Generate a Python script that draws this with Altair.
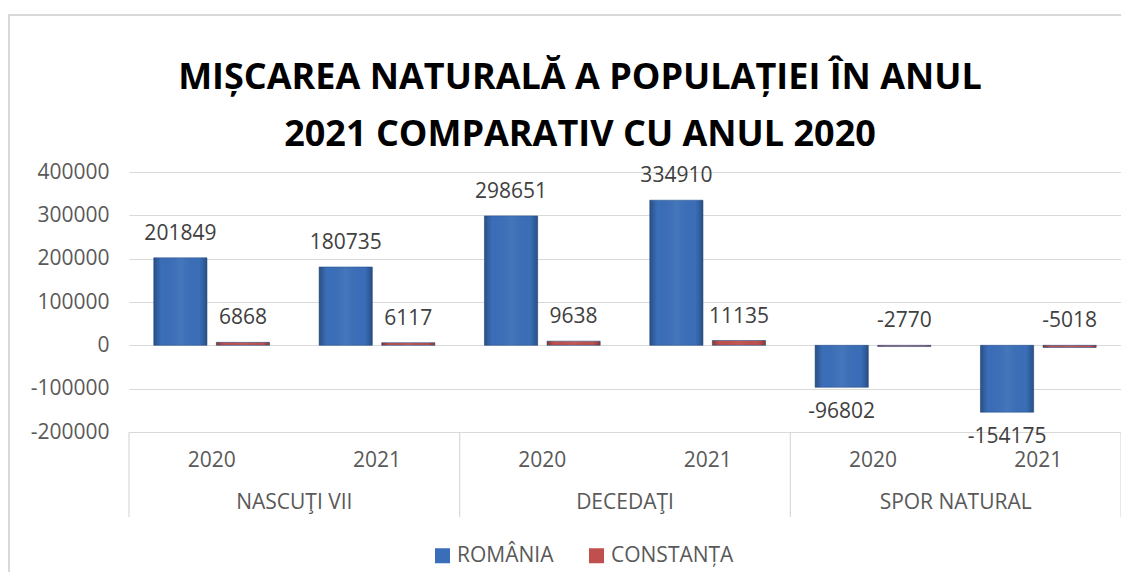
import altair as alt
import pandas as pd

# ---- data ----
groups = ["NASCUŢI VII", "DECEDAŢI", "SPOR NATURAL"]
years = ["2020", "2021"]
series = ["ROMÂNIA", "CONSTANȚA"]
romania = [201849, 180735, 298651, 334910, -96802, -154175]
constanta = [6868, 6117, 9638, 11135, -2770, -5018]
y_ticks = [-200000, -100000, 0, 100000, 200000, 300000, 400000]
title_lines = ["MIȘCAREA NATURALĂ A POPULAȚIEI ÎN ANUL", "2021 COMPARATIV CU ANUL 2020"]
colors = ["#3A6EB8", "#C0504D"]

FONT = "Open Sans"

cats = [f"{g} {y}" for g in groups for y in years]
rows = []
for i, c in enumerate(cats):
    rows.append({"cat": c, "series": series[0], "value": romania[i]})
    rows.append({"cat": c, "series": series[1], "value": constanta[i]})
df = pd.DataFrame(rows)

# category axis decoration (two-level axis drawn as text/rules)
year_df = pd.DataFrame({"pos": [i + 0.5 for i in range(6)],
                        "label": [y for g in groups for y in years]})
group_df = pd.DataFrame({"pos": [1, 3, 5], "label": groups})
div_df = pd.DataFrame({"pos": [0, 2, 4, 6]})
title_df = pd.DataFrame({"line": [0, 1], "text": title_lines})

xband = alt.X("cat:N", sort=cats, axis=None,
              scale=alt.Scale(domain=cats, paddingInner=0.3, paddingOuter=0.15))
xoff = alt.XOffset("series:N", sort=series,
                   scale=alt.Scale(domain=series, paddingInner=0.15))
yq = alt.Y("value:Q",
           scale=alt.Scale(domain=[-200000, 400000], nice=False),
           axis=alt.Axis(values=y_ticks, labelExpr="'' + datum.value", title=None,
                         ticks=False, domain=False, labelPadding=20, labelFontSize=21,
                         labelFont=FONT, labelColor="#595959",
                         gridColor="#d9d9d9", gridWidth=1.2))

base = alt.Chart(df).transform_calculate(txt="'' + datum.value")

bars = base.mark_bar(stroke="#2b5590", strokeWidth=0.6).encode(
    x=xband, xOffset=xoff, y=yq,
    color=alt.Color("series:N", sort=series,
                    scale=alt.Scale(domain=series, range=colors),
                    legend=alt.Legend(title=None)),
)

# bevel-like shading over the bars
shade = base.mark_bar(
    fill=alt.LinearGradient(
        gradient="linear", x1=0, x2=1, y1=0, y2=0,
        stops=[alt.GradientStop(color="rgba(0,0,0,0.28)", offset=0),
               alt.GradientStop(color="rgba(0,0,0,0.0)", offset=0.14),
               alt.GradientStop(color="rgba(255,255,255,0.06)", offset=0.5),
               alt.GradientStop(color="rgba(0,0,0,0.0)", offset=0.86),
               alt.GradientStop(color="rgba(0,0,0,0.28)", offset=1)]),
).encode(x=xband, xOffset=xoff, y=alt.Y("value:Q"))

lab_above = base.transform_filter(
    "datum.value >= 0 || datum.series == 'CONSTANȚA'"
).transform_calculate(ly="max(datum.value, 0)").mark_text(
    dy=-24, fontSize=21, font=FONT, color="#404040", baseline="middle"
).encode(x=xband, xOffset=xoff, y=alt.Y("ly:Q"), text="txt:N")

lab_below = base.transform_filter(
    "datum.value < 0 && datum.series == 'ROMÂNIA'"
).mark_text(
    dy=25, fontSize=21, font=FONT, color="#404040", baseline="middle"
).encode(x=xband, xOffset=xoff, y=alt.Y("value:Q"), text="txt:N")

xq = alt.X("pos:Q", scale=alt.Scale(domain=[0, 6], nice=False, zero=False), axis=None)

dividers = alt.Chart(div_df).mark_rule(color="#d9d9d9", strokeWidth=1.2).encode(
    x=xq, y=alt.value(260), y2=alt.value(345))

year_text = alt.Chart(year_df).mark_text(
    fontSize=21, font=FONT, color="#595959", baseline="middle"
).encode(x=xq, y=alt.value(289), text="label:N")

group_text = alt.Chart(group_df).mark_text(
    fontSize=21, font=FONT, color="#595959", baseline="middle"
).encode(x=xq, y=alt.value(331), text="label:N")

title_text = alt.Chart(title_df).transform_calculate(
    ty="-94 + datum.line * 57"
).mark_text(
    fontSize=36, font=FONT, fontWeight="bold", color="#000000", baseline="middle"
).encode(x=alt.value(451), y=alt.Y("ty:Q", scale=None), text="text:N")

border = alt.Chart(pd.DataFrame({"k": [0]})).mark_rect(
    filled=False, stroke="#d9d9d9", strokeWidth=2
).encode(x=alt.value(-120), x2=alt.value(1100), y=alt.value(-157), y2=alt.value(500))

chart = alt.layer(
    border, bars, shade, lab_above, lab_below, dividers, year_text, group_text, title_text
).resolve_scale(x="independent").properties(
    width=992, height=260,
    autosize=alt.AutoSizeParams(type="none"),
    padding={"left": 121, "top": 164, "right": 0, "bottom": 140},
).configure_view(stroke=None).configure_legend(
    orient="none", legendX=303, legendY=373, direction="horizontal",
    labelFontSize=21, labelFont=FONT, labelColor="#595959",
    symbolType="square", symbolSize=225, columnPadding=32, labelOffset=4,
    symbolStrokeWidth=0,
)

chart.save("out.html", embed_options={"renderer": "svg", "actions": False})
